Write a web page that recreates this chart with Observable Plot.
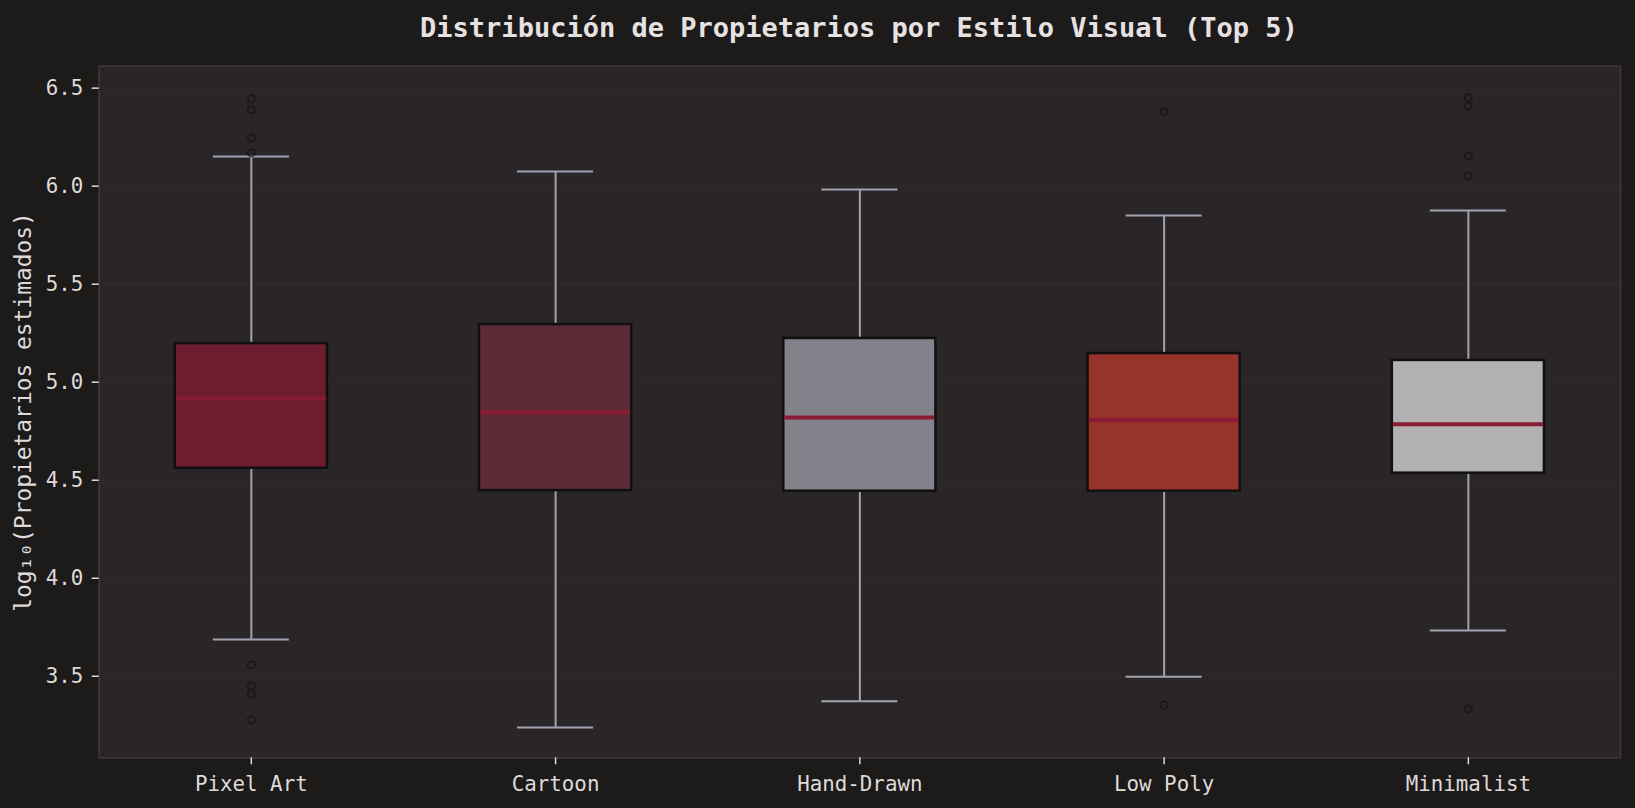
<!DOCTYPE html>
<html>
<head>
<meta charset="utf-8">
<script src="https://cdn.jsdelivr.net/npm/d3@7"></script>
<script src="https://cdn.jsdelivr.net/npm/@observablehq/plot@0.6"></script>
<style>
  html, body { margin: 0; padding: 0; background: #1d1a1a; }
  #title {
    width: 1635px; height: 58px; box-sizing: border-box; padding-left: 83px;
    text-align: center; font: bold 27px "DejaVu Sans Mono", monospace; line-height: 55px;
    color: #e6e2e2; white-space: nowrap;
  }
  #chart svg { display: block; }
</style>
</head>
<body>
<div id="title">Distribución de Propietarios por Estilo Visual (Top 5)</div>
<div id="chart"></div>
<script>
const styles = ["Pixel Art", "Cartoon", "Hand-Drawn", "Low Poly", "Minimalist"];
const q1 = [4.561, 4.447, 4.444, 4.444, 4.536];
const median = [4.917, 4.845, 4.820, 4.806, 4.786];
const q3 = [5.197, 5.294, 5.223, 5.146, 5.111];
const whiskerLow = [3.687, 3.238, 3.372, 3.498, 3.733];
const whiskerHigh = [6.151, 6.075, 5.983, 5.850, 5.876];
const outliers = [
  [6.446, 6.390, 6.247, 6.170, 3.558, 3.451, 3.410, 3.278],
  [],
  [],
  [6.380, 3.352],
  [6.451, 6.410, 6.155, 6.053, 3.334]
];
const boxColors = ["#6e1d30", "#5d2b37", "#83828b", "#98332c", "#b2b0b1"];
const yTicks = [3.5, 4.0, 4.5, 5.0, 5.5, 6.0, 6.5];
const yLabel = "log₁₀(Propietarios estimados)";

const boxes = styles.map((s, i) => ({
  style: s, pos: i + 1, q1: q1[i], med: median[i], q3: q3[i],
  lo: whiskerLow[i], hi: whiskerHigh[i], color: boxColors[i]
}));
const fliers = outliers.flatMap((arr, i) => arr.map(v => ({pos: i + 1, v})));

const textColor = "#dedada";
const whiskerColor = "#a0a3b1";
const font = "DejaVu Sans Mono";

const chart = Plot.plot({
  width: 1635,
  height: 750,
  marginLeft: 98.7,
  marginRight: 15,
  marginTop: 7.7,
  marginBottom: 50.7,
  style: {background: "transparent", fontFamily: font, color: textColor, overflow: "visible"},
  x: {domain: [0.5, 5.5], label: null},
  y: {domain: [3.084, 6.612], label: null},
  color: {type: "identity"},
  marks: [
    Plot.frame({fill: "#2a2526", stroke: "#3a3536", strokeWidth: 2}),
    Plot.gridY(yTicks, {stroke: "#3a3435", strokeOpacity: 0.55, strokeWidth: 1}),
    Plot.axisX([1, 2, 3, 4, 5], {
      tickFormat: i => styles[i - 1], tickSize: 7, tickPadding: 11,
      fontSize: 20.8, fontFamily: font, stroke: textColor, fill: textColor, strokeWidth: 1.5, label: null
    }),
    Plot.axisY(yTicks, {
      tickFormat: d3.format(".1f"), tickSize: 7, tickPadding: 9,
      fontSize: 20.8, fontFamily: font, stroke: textColor, fill: textColor, strokeWidth: 1.5, label: null
    }),
    Plot.ruleX(boxes, {x: "pos", y1: "q3", y2: "hi", stroke: whiskerColor, strokeWidth: 2}),
    Plot.ruleX(boxes, {x: "pos", y1: "lo", y2: "q1", stroke: whiskerColor, strokeWidth: 2}),
    Plot.ruleY(boxes, {x1: d => d.pos - 0.125, x2: d => d.pos + 0.125, y: "hi", stroke: whiskerColor, strokeWidth: 2}),
    Plot.ruleY(boxes, {x1: d => d.pos - 0.125, x2: d => d.pos + 0.125, y: "lo", stroke: whiskerColor, strokeWidth: 2}),
    Plot.rectY(boxes, {x1: d => d.pos - 0.25, x2: d => d.pos + 0.25, y1: "q1", y2: "q3", fill: "color", stroke: "#111010", strokeWidth: 2.5}),
    Plot.ruleY(boxes, {x1: d => d.pos - 0.25 + 0.004, x2: d => d.pos + 0.25 - 0.004, y: "med", stroke: "#8b1a35", strokeWidth: 4}),
    Plot.dot(fliers, {x: "pos", y: "v", r: 3.6, fill: "none", stroke: "#141111", strokeWidth: 1.6, strokeOpacity: 0.75}),
    Plot.text([yLabel], {frameAnchor: "left", dx: -75.7, rotate: -90, textAnchor: "middle",
      fontSize: 22.9, fontFamily: font, fill: textColor})
  ]
});
document.getElementById("chart").appendChild(chart);
</script>
</body>
</html>
